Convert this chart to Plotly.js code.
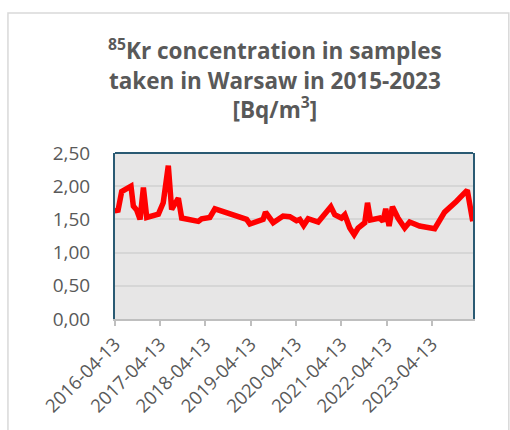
<!DOCTYPE html>
<html>
<head>
<meta charset="utf-8">
<script src="https://cdn.plot.ly/plotly-3.0.1.min.js"></script>
<style>html,body{margin:0;padding:0;background:#fff;}#chart{width:510px;height:430px;}</style>
</head>
<body>
<div id="chart"></div>
<script>
const sampleDates = [
  "2016-04-14","2016-05-05","2016-06-06","2016-07-03","2016-08-20","2016-09-08","2016-10-05","2016-11-01",
  "2016-11-28","2016-12-25","2017-01-21","2017-03-29","2017-05-07","2017-06-17","2017-07-14","2017-09-06",
  "2017-10-03","2017-11-26","2018-01-18","2018-02-14","2018-03-13","2018-04-22","2018-05-18","2018-06-28",
  "2019-02-12","2019-03-11","2019-04-06","2019-05-30","2019-07-22","2019-08-10","2019-10-11","2019-12-30",
  "2020-02-22","2020-04-16","2020-05-13","2020-06-13","2020-07-19","2020-10-08","2020-12-01","2021-01-18",
  "2021-02-19","2021-04-14","2021-05-11","2021-06-20","2021-07-25","2021-08-26","2021-10-19","2021-11-10",
  "2021-12-04","2022-02-17","2022-03-15","2022-04-06","2022-05-03","2022-05-30","2022-07-14","2022-09-06",
  "2022-10-16","2023-01-04","2023-05-06","2023-07-25","2023-10-27","2024-01-24","2024-03-08"
];
const kr85Values = [
  1.67,1.61,1.92,1.95,2.00,1.70,1.64,1.50,
  1.98,1.53,1.54,1.58,1.75,2.31,1.65,1.82,
  1.52,1.50,1.50,1.47,1.51,1.51,1.53,1.66,
  1.52,1.50,1.43,1.47,1.50,1.61,1.45,1.55,
  1.54,1.48,1.50,1.41,1.51,1.46,1.57,1.69,
  1.57,1.52,1.57,1.37,1.27,1.37,1.45,1.75,
  1.49,1.52,1.47,1.66,1.40,1.69,1.52,1.37,
  1.46,1.40,1.36,1.61,1.77,1.94,1.47
];
const yTickValues = [0, 0.5, 1, 1.5, 2, 2.5];
const xRange = ["2016-04-13", "2024-03-10"];

const trace = {
  x: sampleDates, y: kr85Values, type: "scatter", mode: "lines",
  line: {color: "#ff0000", width: 5.5},
  hoverinfo: "skip"
};

const layout = {
  width: 510, height: 430,
  margin: {l: 115, r: 37, t: 153, b: 111},
  paper_bgcolor: "#ffffff",
  plot_bgcolor: "#e7e6e6",
  separators: ",.",
  showlegend: false,
  font: {family: "Open Sans, Noto Sans, sans-serif", color: "#595959"},
  title: {
    text: "<sup>85</sup>Kr concentration in samples<br>taken in Warsaw in 2015-2023<br>[Bq/m<sup>3</sup>]",
    font: {family: "Open Sans, Noto Sans, sans-serif", size: 22.5, color: "#595959", weight: "bold"},
    x: 0.539, xanchor: "center", xref: "container",
    y: 0.862, yanchor: "top", yref: "container"
  },
  xaxis: {
    type: "date", range: xRange,
    tick0: "2016-04-13", dtick: "M12", tickformat: "%Y-%m-%d",
    tickangle: -45,
    tickfont: {size: 18.5, color: "#595959"},
    showgrid: false, zeroline: false,
    showline: true, linecolor: "#bfbfbf", linewidth: 2,
    ticks: "outside", ticklen: 5, tickwidth: 2, tickcolor: "#bfbfbf",
    ticklabelstandoff: 0
  },
  yaxis: {
    range: [0, 2.5], tickvals: yTickValues, tickformat: ".2f",
    tickfont: {size: 19, color: "#595959"},
    showgrid: true, gridcolor: "#d6d6d6", gridwidth: 2,
    zeroline: false,
    showline: true, mirror: true, linecolor: "#2a5a73", linewidth: 2,
    ticks: "", ticklabelstandoff: 19
  },
  shapes: [
    {type: "line", xref: "paper", yref: "paper", x0: 0, x1: 1, y0: 1, y1: 1,
     line: {color: "#2a5a73", width: 2}},
    {type: "rect", xref: "paper", yref: "paper", x0: -0.299, x1: 1.10, y0: -0.8, y1: 1.843,
     line: {color: "#d9d9d9", width: 1.5}, fillcolor: "rgba(0,0,0,0)", layer: "below"}
  ]
};

Plotly.newPlot("chart", [trace], layout, {staticPlot: true, displayModeBar: false});
</script>
</body>
</html>
